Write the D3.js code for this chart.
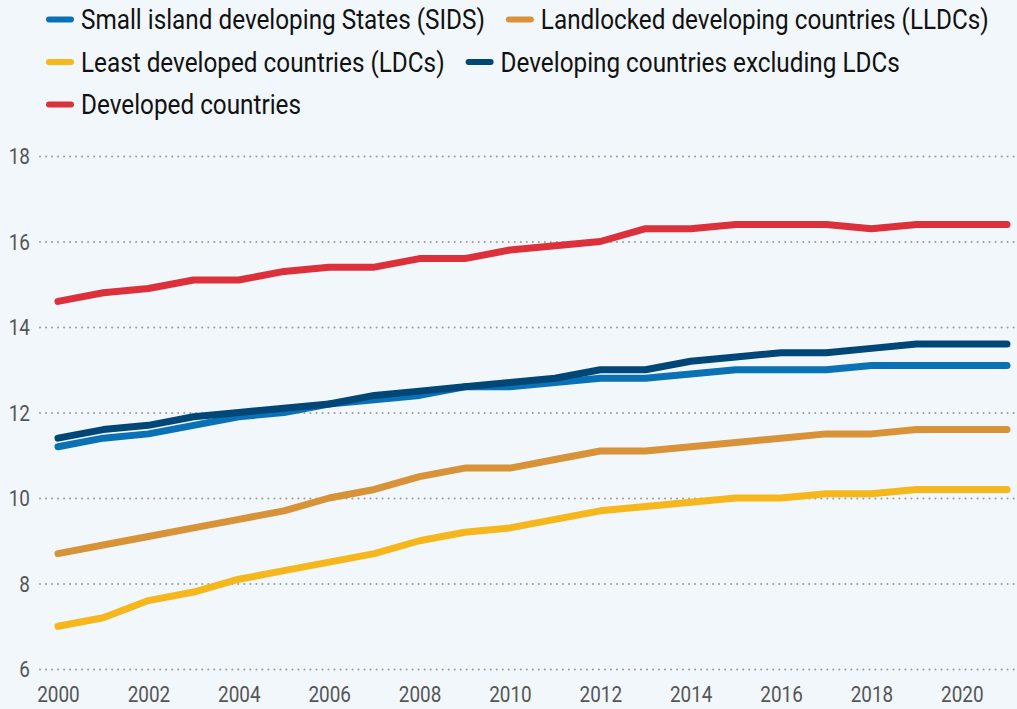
<!DOCTYPE html>
<html>
<head>
<meta charset="utf-8">
<script src="https://cdn.jsdelivr.net/npm/d3@7"></script>
<style>
  body { margin: 0; background: #f2f7fb; }
  svg { display: block; }
  text { font-family: Roboto, "DejaVu Sans Condensed", sans-serif; }
</style>
</head>
<body>
<svg width="1017" height="709"></svg>
<script>
// data
const years = d3.range(2000, 2022);
const yTicks = [6, 8, 10, 12, 14, 16, 18];
const xTicks = [2000, 2002, 2004, 2006, 2008, 2010, 2012, 2014, 2016, 2018, 2020];

const sids = [11.2, 11.4, 11.5, 11.7, 11.9, 12.0, 12.2, 12.3, 12.4, 12.6, 12.6, 12.7, 12.8, 12.8, 12.9, 13.0, 13.0, 13.0, 13.1, 13.1, 13.1, 13.1];
const lldcs = [8.7, 8.9, 9.1, 9.3, 9.5, 9.7, 10.0, 10.2, 10.5, 10.7, 10.7, 10.9, 11.1, 11.1, 11.2, 11.3, 11.4, 11.5, 11.5, 11.6, 11.6, 11.6];
const ldcs = [7.0, 7.2, 7.6, 7.8, 8.1, 8.3, 8.5, 8.7, 9.0, 9.2, 9.3, 9.5, 9.7, 9.8, 9.9, 10.0, 10.0, 10.1, 10.1, 10.2, 10.2, 10.2];
const devExLdc = [11.4, 11.6, 11.7, 11.9, 12.0, 12.1, 12.2, 12.4, 12.5, 12.6, 12.7, 12.8, 13.0, 13.0, 13.2, 13.3, 13.4, 13.4, 13.5, 13.6, 13.6, 13.6];
const developed = [14.6, 14.8, 14.9, 15.1, 15.1, 15.3, 15.4, 15.4, 15.6, 15.6, 15.8, 15.9, 16.0, 16.3, 16.3, 16.4, 16.4, 16.4, 16.3, 16.4, 16.4, 16.4];

const series = [
  { name: 'Small island developing States (SIDS)', values: sids, color: '#0a72b4' },
  { name: 'Landlocked developing countries (LLDCs)', values: lldcs, color: '#d89238' },
  { name: 'Least developed countries (LDCs)', values: ldcs, color: '#f5b71b' },
  { name: 'Developing countries excluding LDCs', values: devExLdc, color: '#004677' },
  { name: 'Developed countries', values: developed, color: '#dc303b' }
];
// draw order, back to front
const drawOrder = [2, 1, 0, 3, 4];

// condensed look: squeeze text horizontally
const tickSqueeze = 0.86;
const legendSqueeze = 0.9;

const svg = d3.select('svg');
const width = +svg.attr('width');
const height = +svg.attr('height');

svg.append('rect').attr('width', width).attr('height', height).attr('fill', '#f2f7fb');

const xScale = d3.scaleLinear().domain([2000, 2021]).range([58, 1007]);
const yScale = d3.scaleLinear().domain([6, 18]).range([669, 156]);

// grid + y labels
const yAxis = svg.append('g')
  .attr('class', 'y-axis')
  .attr('transform', 'translate(40,0)')
  .call(d3.axisRight(yScale).tickValues(yTicks).tickSize(width - 40).tickFormat(d3.format('d')));
yAxis.select('.domain').remove();
yAxis.selectAll('.tick line')
  .attr('stroke', '#9a9a9a')
  .attr('stroke-width', 2)
  .attr('stroke-dasharray', '0.01 6')
  .attr('stroke-linecap', 'round');
yAxis.selectAll('.tick text')
  .attr('x', 0)
  .attr('dy', '0.35em')
  .attr('text-anchor', 'end')
  .attr('transform', `translate(-10,0) scale(${tickSqueeze},1)`)
  .attr('fill', '#555')
  .attr('font-size', 22);

// x labels
const xAxis = svg.append('g')
  .attr('class', 'x-axis')
  .attr('transform', 'translate(0,669)')
  .call(d3.axisBottom(xScale).tickValues(xTicks).tickSize(0).tickPadding(0).tickFormat(d3.format('d')));
xAxis.select('.domain').remove();
xAxis.selectAll('.tick text')
  .attr('y', 0)
  .attr('dy', 0)
  .attr('transform', `translate(0,33) scale(${tickSqueeze},1)`)
  .attr('fill', '#555')
  .attr('font-size', 22);

// lines
const lineGen = d3.line()
  .x((d, i) => xScale(years[i]))
  .y((d) => yScale(d));

svg.append('g').selectAll('path')
  .data(drawOrder.map((i) => series[i]))
  .join('path')
  .attr('d', (d) => lineGen(d.values))
  .attr('fill', 'none')
  .attr('stroke', (d) => d.color)
  .attr('stroke-width', 7)
  .attr('stroke-linejoin', 'round')
  .attr('stroke-linecap', 'round');

// legend, flow layout
const legendRows = [[0, 1], [2, 3], [4]];
const legend = svg.append('g').attr('class', 'legend');
legendRows.forEach((row, r) => {
  let x = 46;
  const y = 19.5 + r * 42.5;
  row.forEach((i) => {
    const s = series[i];
    legend.append('line')
      .attr('x1', x + 3).attr('x2', x + 25)
      .attr('y1', y).attr('y2', y)
      .attr('stroke', s.color)
      .attr('stroke-width', 6)
      .attr('stroke-linecap', 'round');
    const t = legend.append('text')
      .attr('transform', `translate(${x + 35},${y}) scale(${legendSqueeze},1)`)
      .attr('dy', '0.36em')
      .attr('fill', '#111')
      .attr('font-size', 27)
      .text(s.name);
    x += 35 + t.node().getComputedTextLength() * legendSqueeze + 21;
  });
});
</script>
</body>
</html>
